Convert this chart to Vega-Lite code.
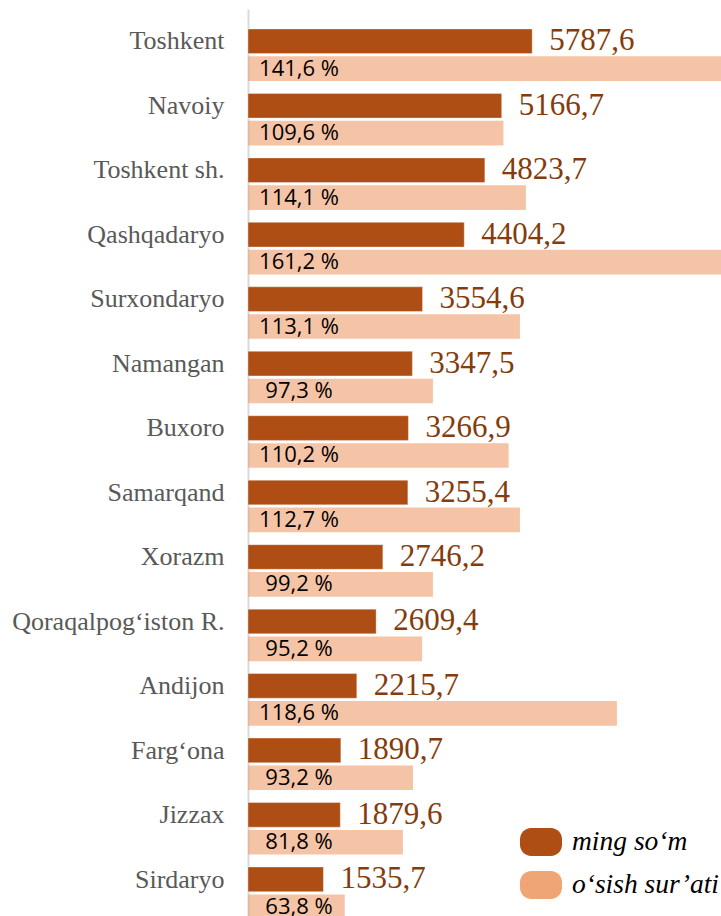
{
  "$schema": "https://vega.github.io/schema/vega-lite/v6.json",
  "width": 473,
  "height": 907,
  "autosize": {"type": "none"},
  "padding": {"left": 248, "top": 9, "right": 0, "bottom": 0},
  "background": "white",
  "config": {
    "view": {"stroke": null},
    "locale": {"number": {"decimal": ",", "thousands": " ", "grouping": [3], "currency": ["", ""], "percent": " %"}}
  },
  "data": {
    "values": [
      {"region": "Toshkent", "series": "ming so‘m", "value": 5787.6},
      {"region": "Toshkent", "series": "o‘sish sur’ati", "value": 1.416, "bar": 205},
      {"region": "Navoiy", "series": "ming so‘m", "value": 5166.7},
      {"region": "Navoiy", "series": "o‘sish sur’ati", "value": 1.096, "bar": 108.0},
      {"region": "Toshkent sh.", "series": "ming so‘m", "value": 4823.7},
      {"region": "Toshkent sh.", "series": "o‘sish sur’ati", "value": 1.141, "bar": 117.5},
      {"region": "Qashqadaryo", "series": "ming so‘m", "value": 4404.2},
      {"region": "Qashqadaryo", "series": "o‘sish sur’ati", "value": 1.612, "bar": 215},
      {"region": "Surxondaryo", "series": "ming so‘m", "value": 3554.6},
      {"region": "Surxondaryo", "series": "o‘sish sur’ati", "value": 1.131, "bar": 115.0},
      {"region": "Namangan", "series": "ming so‘m", "value": 3347.5},
      {"region": "Namangan", "series": "o‘sish sur’ati", "value": 0.973, "bar": 78.2},
      {"region": "Buxoro", "series": "ming so‘m", "value": 3266.9},
      {"region": "Buxoro", "series": "o‘sish sur’ati", "value": 1.102, "bar": 110.2},
      {"region": "Samarqand", "series": "ming so‘m", "value": 3255.4},
      {"region": "Samarqand", "series": "o‘sish sur’ati", "value": 1.127, "bar": 115.0},
      {"region": "Xorazm", "series": "ming so‘m", "value": 2746.2},
      {"region": "Xorazm", "series": "o‘sish sur’ati", "value": 0.992, "bar": 78.2},
      {"region": "Qoraqalpog‘iston R.", "series": "ming so‘m", "value": 2609.4},
      {"region": "Qoraqalpog‘iston R.", "series": "o‘sish sur’ati", "value": 0.952, "bar": 73.6},
      {"region": "Andijon", "series": "ming so‘m", "value": 2215.7},
      {"region": "Andijon", "series": "o‘sish sur’ati", "value": 1.186, "bar": 156.0},
      {"region": "Farg‘ona", "series": "ming so‘m", "value": 1890.7},
      {"region": "Farg‘ona", "series": "o‘sish sur’ati", "value": 0.932, "bar": 69.8},
      {"region": "Jizzax", "series": "ming so‘m", "value": 1879.6},
      {"region": "Jizzax", "series": "o‘sish sur’ati", "value": 0.818, "bar": 65.5},
      {"region": "Sirdaryo", "series": "ming so‘m", "value": 1535.7},
      {"region": "Sirdaryo", "series": "o‘sish sur’ati", "value": 0.638, "bar": 40.9}
    ]
  },
  "encoding": {
    "y": {
      "field": "region",
      "type": "nominal",
      "sort": null,
      "scale": {"range": [0, 930], "paddingInner": 0.193, "paddingOuter": 0.31},
      "axis": {
        "title": null,
        "domain": true,
        "domainColor": "#D9D9D9",
        "domainWidth": 2,
        "ticks": false,
        "tickSize": 0,
        "labelFont": "Liberation Serif, Times New Roman, serif",
        "labelFontSize": 26,
        "labelColor": "#595959",
        "labelPadding": 24,
        "labelOffset": -13.5,
        "labelLimit": 400,
        "labelBaseline": "middle"
      }
    },
    "yOffset": {
      "field": "series",
      "type": "nominal",
      "sort": null,
      "scale": {"paddingInner": 0.1, "paddingOuter": 0}
    }
  },
  "layer": [
    {
      "transform": [{"filter": "datum.series === 'ming so‘m'"}],
      "layer": [
        {
          "mark": {"type": "bar", "stroke": "#FFFFFF", "strokeOpacity": 0.35, "strokeWidth": 1},
          "encoding": {
            "x": {"field": "value", "type": "quantitative", "scale": {"domain": [0, 9633], "nice": false, "zero": true}, "axis": null},
            "color": {
              "field": "series",
              "type": "nominal",
              "scale": {"domain": ["ming so‘m", "o‘sish sur’ati"], "range": ["#AE4E14", "#F0A576"]},
              "legend": {
                "title": null,
                "orient": "none",
                "legendX": 279,
                "legendY": 819,
                "padding": 0,
                "symbolType": "M -0.7,-1 L 0.7,-1 A 0.8,0.8 0 0 1 1.5,-0.2 L 1.5,0.2 A 0.8,0.8 0 0 1 0.7,1 L -0.7,1 A 0.8,0.8 0 0 1 -1.5,0.2 L -1.5,-0.2 A 0.8,0.8 0 0 1 -0.7,-1 Z",
                "symbolSize": 784,
                "symbolStrokeWidth": 0,
                "symbolOpacity": 1,
                "labelFont": "Liberation Serif, Times New Roman, serif",
                "labelFontStyle": "italic",
                "labelFontSize": 27.5,
                "labelColor": "#000000",
                "labelOffset": 17,
                "labelLimit": 400,
                "rowPadding": 15,
                "encode": {"symbols": {"update": {"opacity": {"value": 1}, "fillOpacity": {"value": 1}, "strokeOpacity": {"value": 0}}}}
              }
            }
          }
        },
        {
          "mark": {"type": "text", "align": "left", "baseline": "middle", "dx": 17, "font": "Liberation Serif, Times New Roman, serif", "fontSize": 31, "color": "#843C0C"},
          "encoding": {
            "x": {"field": "value", "type": "quantitative"},
            "text": {"field": "value", "format": ".1f"}
          }
        }
      ]
    },
    {
      "transform": [{"filter": "datum.series === 'o‘sish sur’ati'"}],
      "layer": [
        {
          "mark": {"type": "bar", "opacity": 0.65},
          "encoding": {
            "x": {"field": "bar", "type": "quantitative", "scale": {"domain": [0, 200], "nice": false, "zero": true}, "axis": null},
            "color": {
              "field": "series",
              "type": "nominal",
              "scale": {"domain": ["ming so‘m", "o‘sish sur’ati"], "range": ["#AE4E14", "#F0A576"]}
            }
          }
        },
        {
          "mark": {"type": "text", "align": "center", "baseline": "middle", "dx": 51, "font": "Open Sans", "fontWeight": 500, "fontSize": 22, "color": "#000000"},
          "encoding": {
            "x": {"datum": 0, "type": "quantitative"},
            "text": {"field": "value", "format": ".1%"}
          }
        }
      ]
    }
  ],
  "resolve": {"scale": {"x": "independent"}}
}
